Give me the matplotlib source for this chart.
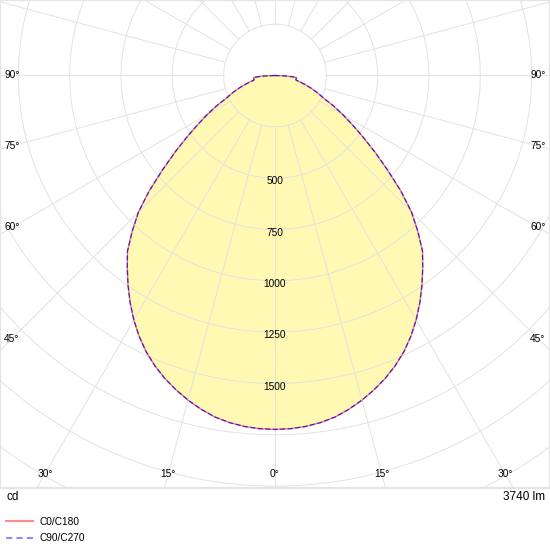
import numpy as np
import matplotlib.pyplot as plt
from matplotlib.lines import Line2D

plt.rcParams['font.family'] = ['Liberation Sans', 'DejaVu Sans']

# luminous intensity distribution (cd), gamma angle from nadir
gamma = [0, 2.5, 5, 7.5, 10, 12.5, 15, 17.5, 20, 22.5, 25, 27.5, 30, 32.5, 35, 37.5,
         40, 42.5, 45, 47.5, 50, 52.5, 55, 57.5, 60, 62.5, 65, 67.5, 70, 72.5, 75,
         77.5, 80, 82.5, 85, 87.5, 90, 120, 150, 180]
c0_c180 = [1724, 1722, 1716, 1705, 1689, 1665, 1637, 1605, 1570, 1530, 1485, 1433,
           1375, 1313, 1248, 1182, 1118, 1030, 940, 830, 715, 615, 525, 448, 382,
           322, 262, 228, 195, 162, 132, 106, 103, 105, 105, 58, 0, 0, 0, 0]
c90_c270 = [1724, 1722, 1716, 1705, 1689, 1665, 1637, 1605, 1570, 1530, 1485, 1433,
            1375, 1313, 1248, 1182, 1118, 1030, 940, 830, 715, 615, 525, 448, 382,
            322, 262, 228, 195, 162, 132, 106, 103, 105, 105, 58, 0, 0, 0, 0]

ring_values = [250, 500, 750, 1000, 1250, 1500, 1750, 2000, 2250, 2500, 2750]
ring_labels = [500, 750, 1000, 1250, 1500]
angle_labels = [0, 15, 30, 45, 60, 75, 90]
flux_text = '3740 lm'
unit_text = 'cd'

# px per cd of the drawing
scale = 0.2053
W, H = 550, 550
cx, cy = 275, 75.5
plot_bottom = 487.5

fig = plt.figure(figsize=(W / 100, H / 100), dpi=100)
ax = fig.add_axes([0, (H - plot_bottom) / H, 1, plot_bottom / H])
ax.set_xlim(-cx / scale, (W - cx) / scale)
ax.set_ylim(-(plot_bottom - cy) / scale, cy / scale)
ax.set_xticks([])
ax.set_yticks([])
for s in ax.spines.values():
    s.set_color('#e4e4e4')
    s.set_linewidth(1.6)


def curve_xy(values):
    g = np.radians(np.array(gamma, dtype=float))
    v = np.array(values, dtype=float)
    g_full = np.concatenate([-g[::-1], g[1:]])
    v_full = np.concatenate([v[::-1], v[1:]])
    return v_full * np.sin(g_full), -v_full * np.cos(g_full)


x0, y0 = curve_xy(c0_c180)
x90, y90 = curve_xy(c90_c270)

# fill
ax.fill(x0, y0, color='#fff9b3', zorder=1, lw=0)

grid_col = '#e2e2e2'
# grid rings
t = np.linspace(0, 2 * np.pi, 720)
for r in ring_values:
    ax.plot(r * np.cos(t), r * np.sin(t), color=grid_col, lw=0.7, zorder=2)

# radial lines, starting from the first ring
for a in range(0, 360, 15):
    ar = np.radians(a)
    ax.plot([250 * np.sin(ar), 4000 * np.sin(ar)],
            [-250 * np.cos(ar), -4000 * np.cos(ar)],
            color=grid_col, lw=0.7, zorder=2)

# curves
ax.plot(x0, y0, color='#ff0000', alpha=0.55, lw=1.0, zorder=3)
ax.plot(x90, y90, color='#0000ff', alpha=0.75, lw=0.9, ls=(0, (4, 2)), zorder=4)

# ring labels along nadir
for r in ring_labels:
    ax.text(0, -r - 15, str(r), ha='center', va='center', fontsize=7.3, zorder=5)

# angle labels on inset frame
inset_x = (cx - 12) / scale
inset_y = (plot_bottom - 13.5 - cy) / scale
for a in angle_labels:
    ar = np.radians(a)
    s_, c_ = np.sin(ar), np.cos(ar)
    if c_ > 1e-9 and s_ * inset_y / c_ <= inset_x:
        px, py = inset_y * s_ / c_, -inset_y
    else:
        px, py = inset_x, -inset_x * c_ / s_
    for sign in ([1] if a == 0 else [-1, 1]):
        ax.text(sign * px, py, f'{a}°', ha='center', va='center', fontsize=7.3, zorder=5)

fig.text(6 / W, 1 - 497 / H, unit_text, ha='left', va='center', fontsize=8.5)
fig.text(545 / W, 1 - 497 / H, flux_text, ha='right', va='center', fontsize=8.5)

handles = [Line2D([], [], color='#ff0000', alpha=0.45, lw=1.5),
           Line2D([], [], color='#0000ff', alpha=0.45, lw=1.5, ls=(0, (3, 2)))]
fig.legend(handles, ['C0/C180', 'C90/C270'], loc='upper left',
           bbox_to_anchor=(6 / W, 1 - 517 / H), frameon=False, fontsize=7.3,
           borderpad=0, borderaxespad=0, handlelength=2.7, handletextpad=0.6,
           labelspacing=0.6)

fig.savefig('out.png', dpi=100)
